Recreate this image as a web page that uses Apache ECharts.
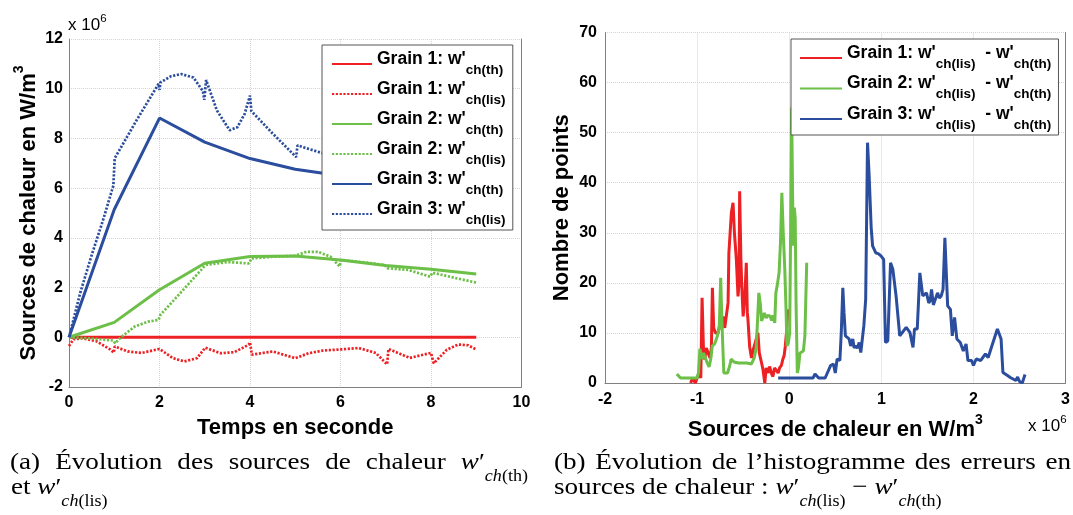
<!DOCTYPE html>
<html><head><meta charset="utf-8">
<script src="https://cdn.jsdelivr.net/npm/echarts@6/dist/echarts.min.js"></script>
<style>html,body{margin:0;padding:0;background:#fff}#c{width:1073px;height:515px}</style>
</head><body><div id="c"></div>
<script>
// ---------- DATA (left plot, values in 10^6 W/m^3) ----------
const timeTh = [0, 1, 2, 3, 4, 5, 6, 7, 8, 9];
const g1Th = [0, 0, 0, 0, 0, 0, 0, 0, 0, 0];
const g2Th = [0, 0.60, 1.91, 2.98, 3.25, 3.27, 3.11, 2.89, 2.74, 2.55];
const g3Th = [0, 5.14, 8.82, 7.85, 7.19, 6.76, 6.50, 6.30, 6.10, 5.95];

const t1Lis = [0,0.1,0.3,0.6,0.9,0.99,1.01,1.3,1.6,2.0,2.3,2.55,2.83,3.01,3.35,3.65,3.97,4.0,4.04,4.5,5.0,5.3,5.62,6.0,6.4,6.78,7.03,7.06,7.53,8.0,8.06,8.35,8.6,8.82,9.0];
const g1Lis = [-0.35,-0.08,-0.04,-0.15,-0.48,-0.62,-0.37,-0.57,-0.63,-0.47,-0.84,-0.97,-0.84,-0.42,-0.64,-0.6,-0.3,-0.2,-0.7,-0.57,-0.84,-0.64,-0.53,-0.49,-0.43,-0.63,-1.09,-0.47,-0.83,-0.63,-1.05,-0.5,-0.29,-0.32,-0.49];

const t2Lis = [0,0.5,0.98,1.02,1.15,1.45,1.75,1.98,2.02,2.45,2.98,3.05,3.5,3.98,4.03,4.5,5.0,5.25,5.5,5.78,5.98,6.02,6.5,6.98,7.03,7.5,7.98,8.03,8.5,9.0];
const g2Lis = [0,-0.05,-0.13,-0.24,0,0.43,0.63,0.70,0.9,1.76,2.83,2.92,3.03,2.97,3.17,3.24,3.28,3.44,3.44,3.24,2.85,3.11,3.02,2.91,2.78,2.71,2.44,2.6,2.4,2.2];

const t3Lis = [0,0.25,0.5,0.75,0.98,1.01,1.5,1.98,2.0,2.02,2.25,2.48,2.75,2.96,2.99,3.03,3.27,3.55,3.72,3.88,4.0,4.03,4.5,5.02,5.05,5.4,5.65,6,7,8,9];
const g3Lis = [0,1.8,3.3,4.7,6.1,7.2,8.75,10.2,9.95,10.25,10.5,10.59,10.45,9.9,9.55,10.35,9.12,8.33,8.45,8.98,9.72,9.1,8.2,7.25,7.72,7.52,7.38,7.3,7.0,6.8,6.5];

// ---------- DATA (right plot: error in 10^6 W/m^3, number of points) ----------
const errG1 = [-1.07,-1.05,-1.02,-1.0,-0.98,-0.96,-0.946,-0.93,-0.917,-0.9,-0.88,-0.86,-0.845,-0.834,-0.82,-0.8,-0.773,-0.75,-0.735,-0.718,-0.7,-0.682,-0.664,-0.655,-0.64,-0.628,-0.61,-0.595,-0.574,-0.556,-0.545,-0.538,-0.525,-0.515,-0.5,-0.48,-0.466,-0.455,-0.448,-0.43,-0.41,-0.39,-0.37,-0.34,-0.325,-0.3,-0.285,-0.265,-0.25,-0.23,-0.213,-0.195,-0.177,-0.16,-0.14,-0.12,-0.105,-0.085,-0.07,-0.055,-0.043,-0.03,-0.014];
const cntG1 = [0,1,0,1,2,1,17,6,4.7,7,6,5,7,19,11,10,10,12,11,13.3,11,10.7,16,26,26,34,36,30,24.7,17.3,20,38.3,25,19.3,13.3,18,24,14,12.7,7.3,5,6.7,8,10,6,4,2.7,0,3,2,3.3,2,1.3,3,3.3,2,3,3.5,4.7,5.5,7.3,10,14.7];

const errG2 = [-1.22,-1.18,-1.1,-1.0,-0.985,-0.97,-0.955,-0.945,-0.93,-0.91,-0.89,-0.87,-0.85,-0.835,-0.81,-0.78,-0.76,-0.744,-0.735,-0.725,-0.71,-0.67,-0.645,-0.63,-0.6,-0.58,-0.55,-0.505,-0.46,-0.41,-0.38,-0.36,-0.345,-0.33,-0.315,-0.3,-0.285,-0.27,-0.25,-0.235,-0.21,-0.19,-0.175,-0.157,-0.145,-0.13,-0.11,-0.095,-0.08,-0.065,-0.048,-0.035,-0.025,-0.01,0.005,0.015,0.026,0.035,0.044,0.055,0.065,0.075,0.088,0.1,0.117,0.135,0.154,0.17,0.19];
const cntG2 = [1.8,1,1,1,2,6.8,7,4.8,6,6,4,3.2,5,7.4,7.8,9.4,11,21,15,9.4,2,2,3.5,4.8,4.2,4.5,4,4,4,3.8,5,6.8,12,18,16,12.4,12.5,14,13,13.5,13.4,12.5,13.5,12,18,19.5,22,28,38,30,22.7,15,7.4,8,10,30,55,40,27.4,35,33,15,2,3,6,6,6.4,9.4,24];

const errG3 = [-0.12,0.26,0.28,0.32,0.39,0.45,0.48,0.5,0.52,0.55,0.565,0.582,0.595,0.61,0.65,0.667,0.69,0.705,0.72,0.74,0.76,0.777,0.81,0.83,0.85,0.868,0.89,0.905,0.94,0.97,0.996,1.025,1.045,1.07,1.1,1.125,1.16,1.2,1.22,1.27,1.31,1.344,1.36,1.39,1.418,1.45,1.49,1.515,1.53,1.545,1.565,1.58,1.61,1.63,1.65,1.67,1.69,1.72,1.75,1.77,1.795,1.82,1.857,1.89,1.92,1.94,1.98,2.0,2.03,2.08,2.13,2.16,2.2,2.26,2.3,2.32,2.37,2.4,2.46,2.48,2.5,2.53,2.56];
const cntG3 = [1,1,1.8,1,1,3.5,3.8,2,4.8,4.5,10,19,14,9.4,8.8,7.4,8.8,7,7.4,7,8.1,6.1,11.4,16.7,48,41.3,31,27.4,26,25.8,25.4,24.7,8.1,8.4,24,22.7,17.4,9.4,9.1,11.1,10.1,7.1,10.8,10.8,22,17.4,18,16,16.4,18.7,15.6,15.4,18,17,17.4,18.7,29,15.4,14.7,9.4,13.1,8.8,8.1,6.4,7.8,4.5,4.5,3.5,4.8,4.5,5.8,5.1,7.4,10.8,8.8,2.1,1.5,1.1,0.5,1.2,0.3,0,1.7];

// ---------- axis ranges / names ----------
const leftX = {min: 0, max: 10, step: 2};
const leftY = {min: -2, max: 12, step: 2};
const rightX = {min: -2, max: 3, step: 1};
const rightY = {min: 0, max: 70, step: 10};

const leftNames = ["Grain 1: w'ch(th)", "Grain 1: w'ch(lis)", "Grain 2: w'ch(th)", "Grain 2: w'ch(lis)", "Grain 3: w'ch(th)", "Grain 3: w'ch(lis)"];
const rightNames = ["Grain 1: w'ch(lis) - w'ch(th)", "Grain 2: w'ch(lis) - w'ch(th)", "Grain 3: w'ch(lis) - w'ch(th)"];

// ---------- styling ----------
const RED = '#ed2024', GREEN = '#6cbf47', BLUE = '#2b4d9e';
const SANS = '"Liberation Sans", Arial, Helvetica, sans-serif';
const SERIF = '"Liberation Serif", "Times New Roman", serif';
const DOT = [2.2, 1.6];

const pairs = (xs, ys) => xs.map((x, i) => [x, ys[i]]);

function lineSeries(name, xs, ys, color, dotted, xi, yi) {
  return {
    name, type: 'line', xAxisIndex: xi, yAxisIndex: yi,
    data: pairs(xs, ys), showSymbol: false, symbol: 'none', animation: false,
    lineStyle: {color, width: dotted ? 2.7 : 3, type: dotted ? DOT : 'solid', cap: 'butt'},
    itemStyle: {color}, emphasis: {disabled: true}
  };
}

const axisLabel = {fontSize: 16, fontWeight: 'bold', fontFamily: SANS, color: '#000'};
const nameStyle = {fontSize: 22, fontWeight: 'bold', fontFamily: SANS, color: '#000', lineHeight: 25};
const supNameRich = {
  m: {fontSize: 22, fontWeight: 'bold', fontFamily: SANS, color: '#000', lineHeight: 25, padding: [6, 0, 0, 0], verticalAlign: 'top'},
  sup: {fontSize: 14, fontWeight: 'bold', fontFamily: SANS, color: '#000', lineHeight: 14, verticalAlign: 'top'}
};
const axLine = {show: true, onZero: false, lineStyle: {color: '#808080', width: 1}};
const split = {show: true, lineStyle: {color: '#d4d4d4', type: 'dotted', width: 1}};

function legendFmt(name) {
  return name.replace(' - ', '  - ').split(/(ch\((?:th|lis)\))/).filter(s => s.length).map(s =>
    /^ch\(/.test(s) ? '{s|' + s + '}' : '{m|' + s + '}').join('') + '{h| }';
}
const legendRich = {
  m: {fontSize: 17.5, fontWeight: 'bold', fontFamily: SANS, color: '#000', lineHeight: 20, verticalAlign: 'top'},
  s: {fontSize: 13.5, fontWeight: 'bold', fontFamily: SANS, color: '#000', lineHeight: 16, padding: [13, 0, 0, 0], verticalAlign: 'top'},
  h: {fontSize: 1, lineHeight: 28}
};
const legendBase = {
  orient: 'vertical', itemWidth: 40, itemHeight: 14, itemGap: 3,
  backgroundColor: '#fff', borderColor: '#555', borderWidth: 1, borderRadius: 0,
  selectedMode: false, formatter: legendFmt, textStyle: {rich: legendRich},
  itemStyle: {opacity: 0}
};

// ---------- captions (justified like LaTeX) ----------
const mctx = document.createElement('canvas').getContext('2d');
const CAP = 24, SUBS = 16, SX = 1.13;
const capRich = {
  r: {fontSize: CAP, fontFamily: SERIF, color: '#1a1a1a', lineHeight: 26, verticalAlign: 'top'},
  it: {fontSize: CAP, fontFamily: SERIF, fontStyle: 'italic', color: '#1a1a1a', lineHeight: 26, verticalAlign: 'top'},
  si: {fontSize: SUBS, fontFamily: SERIF, fontStyle: 'italic', color: '#1a1a1a', lineHeight: 18, padding: [18, 0, 0, 0], verticalAlign: 'top'},
  sr: {fontSize: SUBS, fontFamily: SERIF, color: '#1a1a1a', lineHeight: 18, padding: [18, 0, 0, 0], verticalAlign: 'top'}
};
function partW(p) {
  const st = capRich[p.s];
  mctx.font = (st.fontStyle === 'italic' ? 'italic ' : '') + st.fontSize + 'px ' + SERIF;
  return mctx.measureText(p.t).width * SX;
}
const word = t => [{t, s: 'r'}];
const mathW = sub => [{t: 'w', s: 'it'}, {t: '\u2032', s: 'r'}, {t: 'ch', s: 'si'}, {t: '(' + sub + ')', s: 'sr'}];
const graphics = [];
function placeLine(tokens, x0, x1, yTop, justify) {
  const widths = tokens.map(tk => tk.reduce((a, p) => a + partW(p), 0));
  const total = widths.reduce((a, b) => a + b, 0);
  const spaceW = partW({t: ' ', s: 'r'});
  const gap = justify ? (x1 - x0 - total) / (tokens.length - 1) : spaceW;
  let x = x0;
  tokens.forEach((tk, i) => {
    graphics.push({type: 'text', x, y: yTop, scaleX: SX, silent: true,
      style: {text: tk.map(p => '{' + p.s + '|' + p.t + '}').join(''), rich: capRich, verticalAlign: 'top', align: 'left'}});
    x += widths[i] + gap;
  });
}
placeLine([word('(a)'), word('Évolution'), word('des'), word('sources'), word('de'), word('chaleur'), mathW('th')], 10, 528, 450.5, true);
placeLine([word('et'), mathW('lis')], 11, 0, 476, false);
placeLine([word('(b)'), word('Évolution'), word('de'), word('l’histogramme'), word('des'), word('erreurs'), word('en')], 554, 1071, 450.5, true);
placeLine([word('sources'), word('de'), word('chaleur'), word(':'), mathW('lis'), word('−'), mathW('th')], 554, 0, 476, false);

// multiplier labels
const multRich = {
  a: {fontSize: 17, fontFamily: SANS, color: '#000', lineHeight: 17, padding: [6, 0, 0, 0], verticalAlign: 'top'},
  b: {fontSize: 11.5, fontFamily: SANS, color: '#000', lineHeight: 12, padding: [2, 0, 0, 0], verticalAlign: 'top'}
};
graphics.push({type: 'text', x: 68, y: 11, silent: true, style: {text: '{a|x 10}{b|6}', rich: multRich, verticalAlign: 'top'}});
graphics.push({type: 'text', x: 1028, y: 412, silent: true, style: {text: '{a|x 10}{b|6}', rich: multRich, verticalAlign: 'top'}});

const chart = echarts.init(document.getElementById('c'), null, {renderer: 'canvas'});
chart.setOption({
  animation: false,
  backgroundColor: '#fff',
  grid: [
    {left: 69, top: 39, width: 452.5, height: 348},
    {left: 605, top: 32.5, width: 464, height: 350.5}
  ],
  xAxis: [
    {gridIndex: 0, type: 'value', min: leftX.min, max: leftX.max, interval: leftX.step,
     axisLine: axLine, axisTick: {show: false}, splitLine: split,
     axisLabel: Object.assign({margin: 8}, axisLabel),
     name: 'Temps en seconde', nameLocation: 'middle', nameGap: 21, nameTextStyle: nameStyle},
    {gridIndex: 1, type: 'value', min: rightX.min, max: rightX.max, interval: rightX.step,
     axisLine: axLine, axisTick: {show: false}, splitLine: split,
     axisLabel: Object.assign({margin: 9}, axisLabel),
     name: '{m|Sources de chaleur en W/m}{sup|3}', nameLocation: 'middle', nameGap: 22,
     nameTextStyle: {rich: supNameRich}}
  ],
  yAxis: [
    {gridIndex: 0, type: 'value', min: leftY.min, max: leftY.max, interval: leftY.step,
     axisLine: axLine, axisTick: {show: false}, splitLine: split,
     axisLabel: Object.assign({margin: 6}, axisLabel),
     name: '{m|Sources de chaleur en W/m}{sup|3}', nameLocation: 'middle', nameGap: 32,
     nameTextStyle: {rich: supNameRich}},
    {gridIndex: 1, type: 'value', min: rightY.min, max: rightY.max, interval: rightY.step,
     axisLine: axLine, axisTick: {show: false}, splitLine: split,
     axisLabel: Object.assign({margin: 8}, axisLabel),
     name: 'Nombre de points', nameLocation: 'middle', nameGap: 31, nameTextStyle: nameStyle},
    {gridIndex: 0, type: 'value', position: 'right', min: leftY.min, max: leftY.max, interval: leftY.step,
     axisLine: axLine, axisTick: {show: false}, axisLabel: {show: false}, splitLine: {show: false}},
    {gridIndex: 1, type: 'value', position: 'right', min: rightY.min, max: rightY.max, interval: rightY.step,
     axisLine: axLine, axisTick: {show: false}, axisLabel: {show: false}, splitLine: {show: false}}
  ],
  legend: [
    Object.assign({}, legendBase, {data: leftNames, left: 322, top: 45, padding: [5, 7, 3, 9]}),
    Object.assign({}, legendBase, {data: rightNames, left: 791, top: 39, padding: [5, 7, 3, 8], itemWidth: 42, itemGap: 3.5})
  ],
  series: [
    lineSeries(leftNames[0], timeTh, g1Th, RED, false, 0, 0),
    lineSeries(leftNames[1], t1Lis, g1Lis, RED, true, 0, 0),
    lineSeries(leftNames[2], timeTh, g2Th, GREEN, false, 0, 0),
    lineSeries(leftNames[3], t2Lis, g2Lis, GREEN, true, 0, 0),
    lineSeries(leftNames[4], timeTh, g3Th, BLUE, false, 0, 0),
    lineSeries(leftNames[5], t3Lis, g3Lis, BLUE, true, 0, 0),
    lineSeries(rightNames[0], errG1, cntG1, RED, false, 1, 1),
    lineSeries(rightNames[1], errG2, cntG2, GREEN, false, 1, 1),
    lineSeries(rightNames[2], errG3, cntG3, BLUE, false, 1, 1)
  ],
  graphic: graphics
});
</script>
</body></html>
